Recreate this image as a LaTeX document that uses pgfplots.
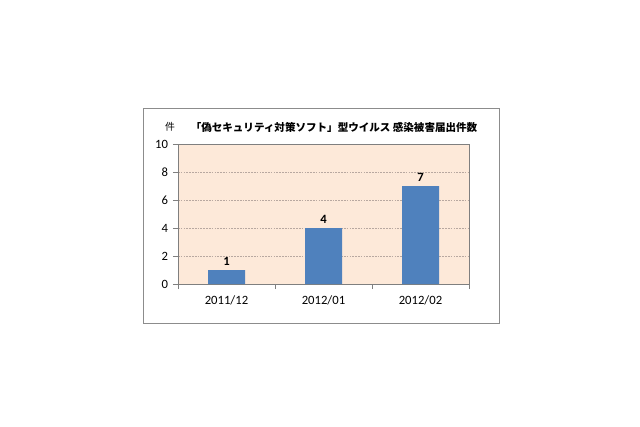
\documentclass[border=0pt]{standalone}
\usepackage{pgfplots}
\pgfplotsset{compat=1.18}
\usepackage{fontspec}
\setmainfont{Carlito}
\newfontfamily\jp{Noto Sans CJK JP}
\definecolor{barblue}{HTML}{4F81BD}
\definecolor{peach}{HTML}{FDE9D9}
\definecolor{framegray}{HTML}{8C8C8C}
\definecolor{axisgray}{HTML}{7F7F7F}
\definecolor{gridgray}{HTML}{B8A8A0}
\begin{document}
\begin{tikzpicture}
  % page = 640x426 px, 1px = 0.025cm
  \useasboundingbox (-4.45cm,-3.55cm) rectangle (11.55cm,7.1cm);
  \draw[framegray, line width=0.6pt] (-0.875cm,-0.975cm) rectangle (8.025cm,4.4cm);
  \node[font=\jp\fontsize{7}{8}\selectfont] at (-0.2cm,3.925cm) {件};
  \node[font=\jp\bfseries\fontsize{7.5}{9}\selectfont] at (3.9cm,3.925cm)
    {「偽セキュリティ対策ソフト」型ウイルス 感染被害届出件数};
  \begin{axis}[
    at={(0,0)}, anchor=south west,
    scale only axis,
    width=7.275cm, height=3.5cm,
    xmin=-0.5, xmax=2.5,
    ymin=0, ymax=10,
    xtick={0,1,2},
    xticklabels={2011/12,2012/01,2012/02},
    minor xtick={-0.5,0.5,1.5,2.5},
    ytick={0,2,4,6,8,10},
    major x tick style={draw=none},
    tick align=outside,
    tick pos=left,
    major tick length=0.125cm,
    minor tick length=0.125cm,
    tick style={axisgray, line width=0.5pt},
    axis line style={axisgray, line width=0.6pt},
    axis background/.style={fill=peach},
    ymajorgrids=true,
    grid style={dash pattern=on 1.2pt off 0.8pt, gridgray, line width=0.4pt},
    ticklabel style={font=\fontsize{9}{10}\selectfont},
    x tick label style={yshift=-1pt},
    /pgf/number format/assume math mode=true,
  ]
    \addplot[ybar, bar width=0.925cm, bar shift=0pt, fill=barblue, draw=none,
      nodes near coords,
      every node near coord/.append style={font=\bfseries\fontsize{9}{10}\selectfont, black}]
      coordinates {(0,1) (1,4) (2,7)};
  \end{axis}
\end{tikzpicture}
\end{document}
